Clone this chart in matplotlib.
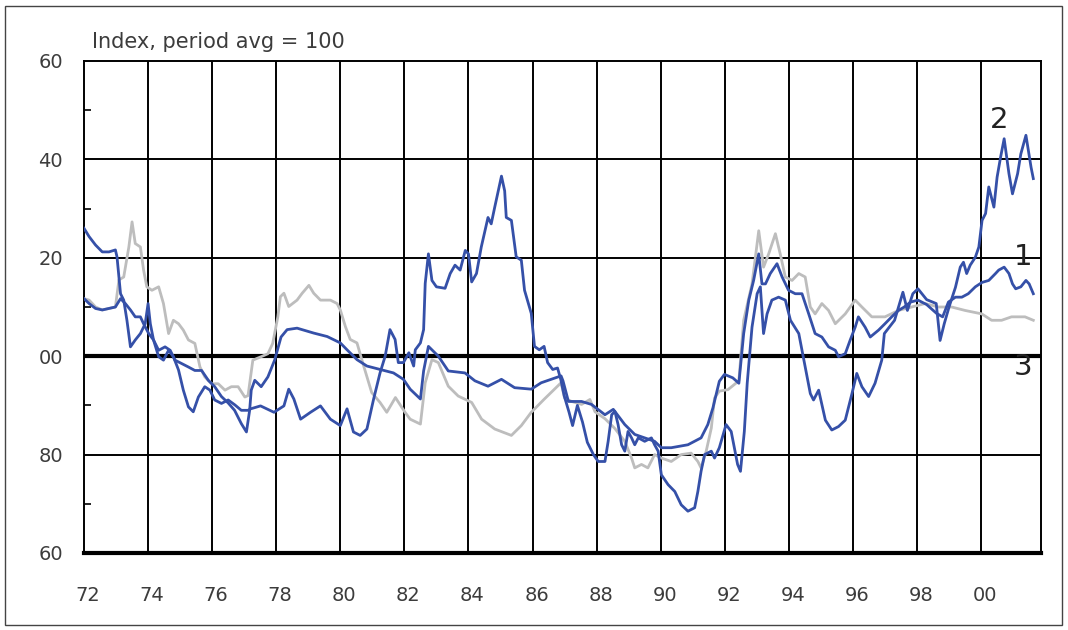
import matplotlib
matplotlib.use('Agg')
import matplotlib.pyplot as plt
import matplotlib.transforms as mtransforms
from matplotlib.patches import Rectangle

# series 1 (smoother blue, ends near 113)
s1_years = [1972.0, 1972.16, 1972.36, 1972.57, 1972.78, 1972.98, 1973.14, 1973.29, 1973.45, 1973.6,
            1973.76, 1973.86, 1974.02, 1974.17, 1974.33, 1974.53, 1974.69, 1974.84, 1975.05, 1975.26,
            1975.46, 1975.67, 1975.88, 1976.08, 1976.29, 1976.5, 1976.7, 1976.91, 1977.07, 1977.17,
            1977.22, 1977.33, 1977.53, 1977.74, 1977.95, 1978.15, 1978.34, 1978.65, 1979.17, 1979.59,
            1980.0, 1980.21, 1980.52, 1980.83, 1981.24, 1981.66, 1981.97, 1982.18, 1982.5, 1982.6,
            1982.75, 1983.06, 1983.37, 1983.89, 1984.2, 1984.61, 1985.03, 1985.44, 1985.96, 1986.27,
            1986.89, 1986.95, 1987.12, 1987.53, 1987.84, 1988.26, 1988.52, 1988.88, 1989.19, 1989.5,
            1989.81, 1990.02, 1990.33, 1990.85, 1991.26, 1991.47, 1991.63, 1991.83, 1991.99, 1992.25,
            1992.44, 1992.59, 1992.75, 1992.9, 1993.06, 1993.16, 1993.27, 1993.42, 1993.63, 1993.79,
            1993.99, 1994.2, 1994.41, 1994.62, 1994.82, 1995.03, 1995.24, 1995.45, 1995.55, 1995.76,
            1995.91, 1996.07, 1996.17, 1996.38, 1996.54, 1996.8, 1997.0, 1997.21, 1997.42, 1997.6,
            1997.8, 1998.03, 1998.3, 1998.61, 1998.8, 1998.98, 1999.2, 1999.4, 1999.6, 1999.82,
            2000.03, 2000.24, 2000.45, 2000.55, 2000.72, 2000.87, 2000.98, 2001.08, 2001.24, 2001.4,
            2001.5, 2001.63]
s1_vals = [111.7, 110.7, 109.7, 109.4, 109.7, 110.0, 111.7, 110.7, 109.4, 108.0,
           108.0, 106.6, 104.6, 103.3, 101.2, 101.9, 101.2, 99.2, 98.5, 97.8,
           97.1, 97.1, 95.1, 93.8, 91.8, 90.5, 89.0, 86.3, 84.6, 89.0,
           93.1, 95.1, 93.8, 95.8, 99.2, 103.9, 105.4, 105.7, 104.7, 104.0,
           102.7, 101.3, 99.3, 98.0, 97.3, 96.6, 95.3, 93.3, 91.3, 97.0,
           102.0, 100.0, 97.0, 96.6, 95.0, 93.9, 95.3, 93.6, 93.3, 94.6,
           96.0, 95.0, 90.8, 90.8, 90.2, 88.1, 89.2, 86.1, 84.1, 83.4,
           82.7, 81.4, 81.4, 82.0, 83.4, 86.1, 89.5, 94.9, 96.3, 95.6,
           94.5, 104.6, 111.4, 115.4, 120.8, 114.7, 114.7, 116.8, 118.8, 116.1,
           113.4, 112.7, 112.7, 108.6, 104.6, 103.9, 101.9, 101.2, 99.9, 100.5,
           103.2, 105.9, 108.0, 105.9, 103.9, 105.3, 106.6, 108.0, 109.3, 110.0,
           111.0, 111.4, 110.5, 108.7, 108.0, 111.0, 112.0, 112.0, 112.7, 114.1,
           115.0, 115.4, 116.8, 117.5, 118.1, 116.8, 114.7, 113.7, 114.1, 115.4,
           114.7, 112.7]

# series 2 (volatile blue, ends near 136)
s2_years = [1972.0, 1972.16, 1972.36, 1972.57, 1972.78, 1972.98, 1973.03, 1973.09, 1973.14, 1973.24,
            1973.34, 1973.45, 1973.6, 1973.76, 1973.91, 1974.0, 1974.07, 1974.17, 1974.33, 1974.48,
            1974.64, 1974.79, 1974.95, 1975.1, 1975.26, 1975.41, 1975.57, 1975.77, 1975.93, 1976.08,
            1976.29, 1976.5, 1976.71, 1976.91, 1977.12, 1977.2, 1977.51, 1977.93, 1978.24, 1978.39,
            1978.55, 1978.76, 1979.07, 1979.38, 1979.69, 1980.0, 1980.21, 1980.41, 1980.62, 1980.83,
            1981.04, 1981.24, 1981.4, 1981.55, 1981.71, 1981.81, 1981.97, 1982.14, 1982.29, 1982.34,
            1982.5, 1982.6, 1982.65, 1982.75, 1982.86, 1983.0, 1983.27, 1983.43, 1983.58, 1983.74,
            1983.9, 1984.0, 1984.1, 1984.25, 1984.4, 1984.61, 1984.71, 1984.82, 1985.03, 1985.13,
            1985.18, 1985.34, 1985.49, 1985.65, 1985.75, 1985.96, 1986.06, 1986.21, 1986.36, 1986.47,
            1986.63, 1986.78, 1986.88, 1986.99, 1987.14, 1987.25, 1987.4, 1987.56, 1987.71, 1987.9,
            1988.05, 1988.26, 1988.36, 1988.47, 1988.57, 1988.67, 1988.78, 1988.88, 1988.98, 1989.09,
            1989.19, 1989.3, 1989.5, 1989.71, 1989.81, 1989.92, 1990.02, 1990.23, 1990.44, 1990.64,
            1990.85, 1991.06, 1991.16, 1991.26, 1991.37, 1991.58, 1991.68, 1991.83, 1992.04, 1992.2,
            1992.4, 1992.49, 1992.61, 1992.7, 1992.85, 1993.01, 1993.11, 1993.21, 1993.32, 1993.47,
            1993.68, 1993.89, 1994.05, 1994.31, 1994.51, 1994.67, 1994.77, 1994.93, 1995.14, 1995.34,
            1995.55, 1995.76, 1995.97, 1996.12, 1996.28, 1996.49, 1996.69, 1996.9, 1996.98, 1997.3,
            1997.56, 1997.7, 1997.87, 1998.03, 1998.3, 1998.6, 1998.72, 1998.85, 1999.0, 1999.2,
            1999.35, 1999.45, 1999.55, 1999.66, 1999.82, 1999.93, 2000.03, 2000.14, 2000.24, 2000.4,
            2000.5, 2000.61, 2000.72, 2000.87, 2000.98, 2001.14, 2001.24, 2001.4, 2001.56, 2001.63]
s2_vals = [126.0, 124.3, 122.6, 121.2, 121.2, 121.6, 120.2, 116.1, 112.7, 111.4,
           107.3, 101.9, 103.3, 104.6, 106.6, 110.7, 106.6, 103.3, 99.9, 99.2,
           101.2, 99.9, 97.2, 93.1, 89.7, 88.7, 91.7, 93.8, 93.1, 91.1,
           90.4, 91.1, 90.1, 89.0, 89.0, 89.3, 89.9, 88.6, 89.9, 93.3,
           91.3, 87.2, 88.6, 89.9, 87.2, 85.9, 89.3, 84.6, 83.9, 85.2,
           91.3, 96.6, 100.0, 105.4, 103.4, 98.7, 98.7, 100.7, 98.0, 101.3,
           102.7, 105.4, 114.8, 120.8, 115.4, 114.1, 113.8, 116.8, 118.5, 117.5,
           121.5, 120.8, 115.1, 116.8, 122.2, 128.2, 126.9, 130.3, 136.6, 133.6,
           128.2, 127.6, 120.2, 119.5, 113.4, 108.7, 102.0, 101.3, 102.0, 98.7,
           97.3, 97.6, 95.3, 91.9, 88.6, 85.9, 90.0, 86.6, 82.5, 80.0,
           78.6, 78.6, 82.7, 88.1, 88.8, 86.1, 82.0, 80.7, 84.7, 83.4,
           82.0, 83.4, 82.7, 83.4, 82.0, 80.7, 75.9, 73.9, 72.5, 69.8,
           68.5, 69.2, 72.5, 76.6, 80.0, 80.7, 79.3, 81.4, 86.1, 84.7,
           78.0, 76.6, 84.7, 94.5, 105.9, 112.7, 114.1, 104.6, 108.6, 111.4,
           112.0, 111.4, 107.3, 104.6, 97.8, 92.4, 91.1, 93.1, 87.0, 85.0,
           85.7, 87.0, 92.4, 96.5, 93.8, 91.8, 94.5, 99.2, 104.6, 107.3,
           113.0, 109.3, 112.7, 113.7, 111.5, 110.7, 103.2, 106.6, 110.0, 114.0,
           118.1, 119.1, 116.8, 118.5, 120.1, 122.2, 127.6, 129.0, 134.4, 130.3,
           136.4, 140.5, 144.2, 137.1, 133.0, 137.1, 141.1, 144.9, 138.4, 136.1]

# series 3 (grey)
s3_years = [1972.0, 1972.16, 1972.36, 1972.57, 1972.78, 1972.98, 1973.09, 1973.24, 1973.4, 1973.5,
            1973.6, 1973.76, 1973.86, 1973.96, 1974.12, 1974.33, 1974.48, 1974.64, 1974.79, 1974.95,
            1975.1, 1975.26, 1975.46, 1975.62, 1975.77, 1975.98, 1976.19, 1976.4, 1976.6, 1976.81,
            1977.02, 1977.12, 1977.27, 1977.53, 1977.74, 1977.89, 1978.05, 1978.13, 1978.24, 1978.39,
            1978.65, 1978.81, 1979.02, 1979.17, 1979.38, 1979.69, 1979.9, 1980.0, 1980.16, 1980.31,
            1980.52, 1980.73, 1980.98, 1981.24, 1981.45, 1981.72, 1982.02, 1982.18, 1982.5, 1982.65,
            1982.86, 1983.06, 1983.37, 1983.68, 1984.1, 1984.41, 1984.82, 1985.34, 1985.65, 1985.96,
            1986.37, 1986.89, 1987.0, 1987.22, 1987.53, 1987.79, 1987.95, 1988.26, 1988.57, 1988.88,
            1989.09, 1989.19, 1989.4, 1989.6, 1989.81, 1990.02, 1990.33, 1990.64, 1990.95, 1991.16,
            1991.26, 1991.42, 1991.58, 1991.68, 1991.83, 1992.1, 1992.44, 1992.59, 1992.85, 1993.06,
            1993.21, 1993.37, 1993.58, 1993.73, 1993.89, 1994.1, 1994.31, 1994.51, 1994.67, 1994.82,
            1995.03, 1995.24, 1995.45, 1995.76, 1996.07, 1996.28, 1996.59, 1997.0, 1997.42, 1997.84,
            1998.25, 1998.67, 1999.08, 1999.5, 2000.02, 2000.33, 2000.64, 2000.95, 2001.37, 2001.63]
s3_vals = [111.7, 111.4, 110.0, 109.4, 109.7, 110.0, 115.5, 116.1, 122.2, 127.3,
           122.9, 122.2, 117.5, 114.1, 113.4, 114.1, 110.7, 104.6, 107.3, 106.6,
           105.3, 103.3, 102.6, 97.8, 95.8, 94.4, 94.4, 93.1, 93.8, 93.8,
           91.7, 92.0, 99.2, 99.9, 100.5, 102.6, 108.0, 112.1, 112.8, 110.1,
           111.4, 112.8, 114.4, 112.8, 111.4, 111.4, 110.7, 109.4, 106.0, 103.4,
           102.7, 98.0, 92.6, 90.6, 88.6, 91.6, 88.6, 87.2, 86.2, 94.6,
           99.3, 98.7, 93.9, 91.9, 90.6, 87.2, 85.2, 83.9, 85.9, 88.6,
           91.3, 94.6, 91.5, 90.8, 90.2, 91.2, 88.7, 87.3, 85.3, 82.7,
           79.3, 77.3, 78.0, 77.3, 80.0, 79.3, 78.6, 80.0, 80.3, 78.6,
           77.3, 80.7, 85.4, 91.5, 92.9, 93.2, 95.0, 107.3, 114.7, 125.5,
           118.1, 120.8, 124.9, 120.8, 116.1, 115.4, 116.8, 116.1, 110.0, 108.6,
           110.7, 109.3, 106.6, 108.6, 111.4, 110.0, 108.0, 108.0, 109.3, 110.0,
           110.7, 110.0, 110.0, 109.3, 108.6, 107.3, 107.3, 108.0, 108.0, 107.3]

x_ticks = list(range(1972, 2001, 2))
x_labels = ['72', '74', '76', '78', '80', '82', '84', '86', '88', '90', '92', '94', '96', '98', '00']
y_ticks = [60, 80, 100, 120, 140, 160]
y_labels = ['60', '80', '00', '20', '40', '60']

blue = '#3550A8'
grey = '#BDBDBD'
label_col = '#3c3c3c'

fig = plt.figure(figsize=(10.68, 6.30), dpi=100)
ax = fig.add_axes([84 / 1068, 1 - 553 / 630, (1041 - 84) / 1068, (553 - 61) / 630])

# grid
for x in x_ticks[1:]:
    ax.axvline(x, color='black', lw=1.4, zorder=1)
for y in [80, 120, 140]:
    ax.axhline(y, color='black', lw=1.4, zorder=1)
ax.axhline(100, color='black', lw=3.0, zorder=1)

ax.plot(s3_years, s3_vals, color=grey, lw=2.0, zorder=3)
ax.plot(s1_years, s1_vals, color=blue, lw=2.0, zorder=4)
ax.plot(s2_years, s2_vals, color=blue, lw=2.0, zorder=4)

ax.set_xlim(1972, 2001.87)
ax.set_ylim(60, 160)
ax.set_xticks(x_ticks)
ax.set_xticklabels(x_labels)
ax.set_yticks(y_ticks)
ax.set_yticklabels(y_labels)
ax.set_yticks([70, 90, 110, 130, 150], minor=True)
ax.tick_params(axis='y', which='major', length=0, pad=15, labelsize=14, labelcolor=label_col)
ax.tick_params(axis='y', which='minor', direction='in', length=5, width=1.2, color='black')
ax.tick_params(axis='x', which='major', length=0, pad=24, labelsize=14, labelcolor=label_col)

# x labels sit a few pixels right of their gridlines in the original
shift = mtransforms.ScaledTranslation(4 / 100, 0, fig.dpi_scale_trans)
for lab in ax.get_xticklabels():
    lab.set_transform(lab.get_transform() + shift)

for side in ['left', 'right', 'top']:
    ax.spines[side].set_linewidth(1.4)
ax.spines['bottom'].set_linewidth(3.0)

ax.text(2000.55, 148, '2', fontsize=21, color='#222222', ha='center', va='center', zorder=5)
ax.text(2001.3, 120.2, '1', fontsize=21, color='#222222', ha='center', va='center', zorder=5)
ax.text(2001.3, 97.8, '3', fontsize=21, color='#222222', ha='center', va='center', zorder=5)

fig.text(92 / 1068, 1 - 42 / 630, 'Index, period avg = 100', fontsize=15, color=label_col,
         ha='left', va='center')

fig.patches.append(Rectangle((5 / 1068, 5 / 630), 1057 / 1068, 619 / 630, transform=fig.transFigure,
                             fill=False, edgecolor='#444444', lw=1.0))

fig.savefig('out.png', dpi=100)
